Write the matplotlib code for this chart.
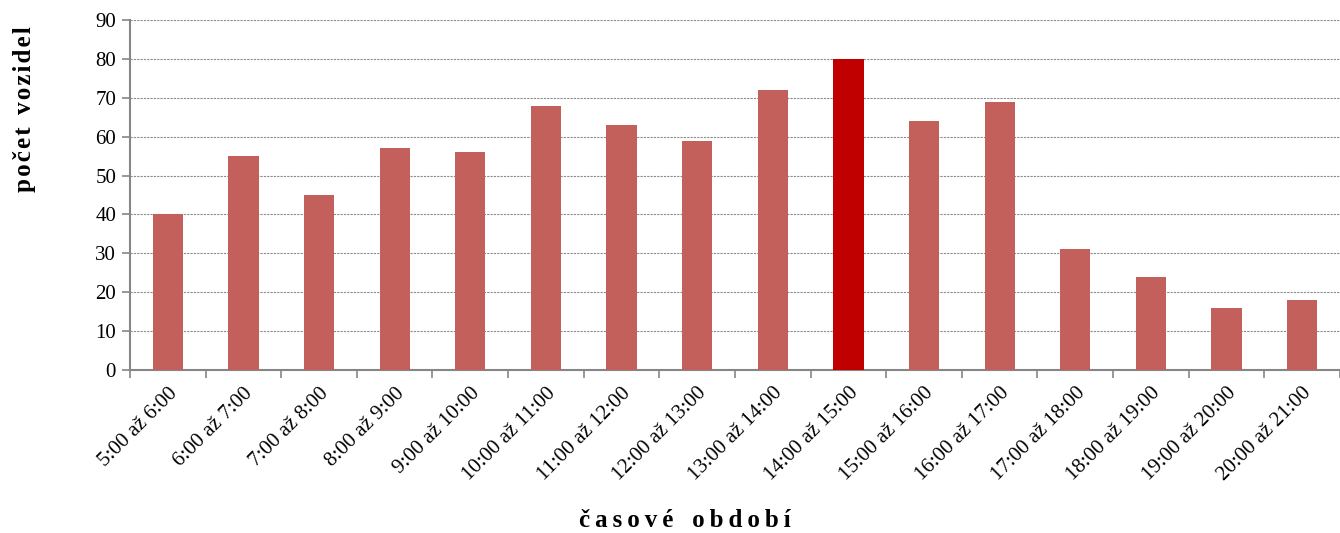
import numpy as np
import matplotlib.pyplot as plt

categories = ['5:00 až 6:00', '6:00 až 7:00', '7:00 až 8:00', '8:00 až 9:00',
              '9:00 až 10:00', '10:00 až 11:00', '11:00 až 12:00', '12:00 až 13:00',
              '13:00 až 14:00', '14:00 až 15:00', '15:00 až 16:00', '16:00 až 17:00',
              '17:00 až 18:00', '18:00 až 19:00', '19:00 až 20:00', '20:00 až 21:00']
values = [40, 55, 45, 57, 56, 68, 63, 59, 72, 80, 64, 69, 31, 24, 16, 18]
peak_index = 9

plt.rcParams['font.family'] = ['Liberation Serif', 'DejaVu Serif']


def spaced(text, gap):
    # letter spacing like the original
    return gap.join(text)


fig = plt.figure(figsize=(13.4, 5.33), dpi=100)
ax = fig.add_axes([0.097, 0.306, 0.903, 0.6565])

index = np.arange(len(categories))
colours = ['#C4605C'] * len(values)
colours[peak_index] = '#C00000'
ax.bar(index, values, 0.4, color=colours, zorder=3)

ax.set_xlim(-0.5, len(categories) - 0.5)
ax.set_ylim(0, 90)
ax.set_yticks(np.arange(0, 91, 10))
ax.yaxis.grid(True, color='#8c8c8c', linestyle=(0, (2, 1)), linewidth=0.8, zorder=0)

ax.set_xticks(index)
ax.set_xticklabels(categories, rotation=45, ha='right', rotation_mode='anchor', fontsize=15)
ax.set_xticks(np.arange(-0.5, len(categories), 1), minor=True)
ax.tick_params(axis='x', which='major', length=0, pad=10)
ax.tick_params(axis='x', which='minor', length=6, color='#868686', width=1.2)
ax.tick_params(axis='y', length=6, color='#868686', width=1.2, labelsize=15, pad=4)

for side in ['top', 'right']:
    ax.spines[side].set_visible(False)
for side in ['left', 'bottom']:
    ax.spines[side].set_color('#868686')
    ax.spines[side].set_linewidth(1.5)

fig.text(0.018, 0.795, spaced('počet', '\u200a') + '  ' + spaced('vozidel', '\u200a'),
         fontsize=18, fontweight='bold', rotation=90, ha='center', va='center')
fig.text(0.511, 0.024, spaced('časové', '\u2009') + '   ' + spaced('období', '\u2009'),
         fontsize=18, fontweight='bold', ha='center', va='center')

fig.savefig('out.png', dpi=100)
